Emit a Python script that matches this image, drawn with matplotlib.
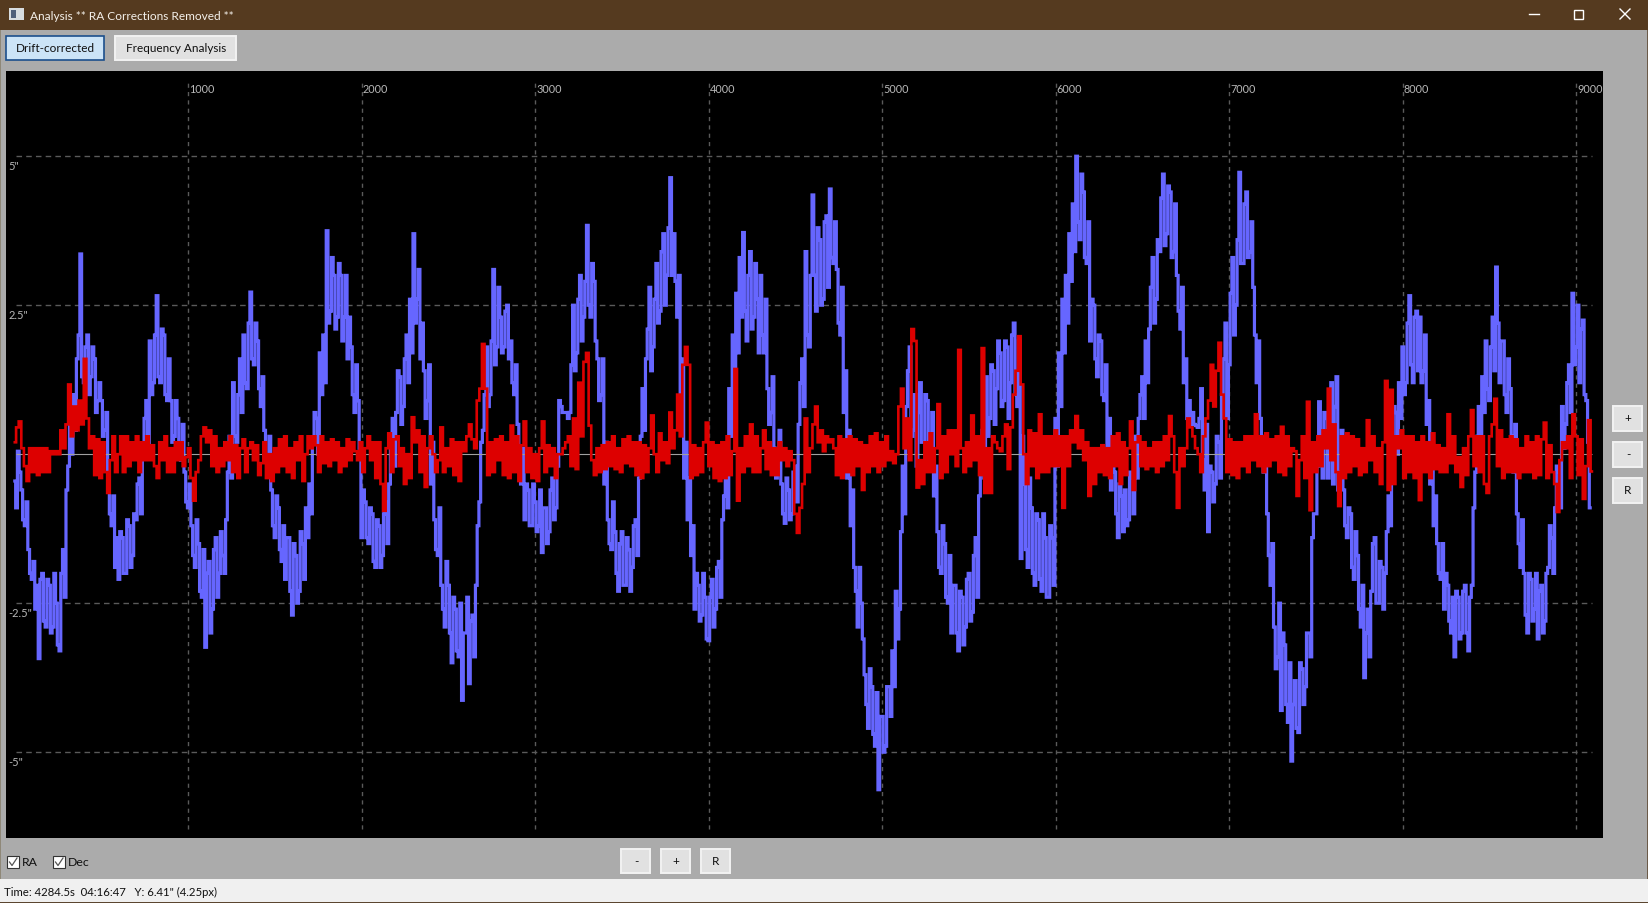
import numpy as np
import matplotlib
matplotlib.use('Agg')
import matplotlib.pyplot as plt
from matplotlib.patches import Rectangle

W, H = 1649, 904
UI_FONT = ['Lato', 'DejaVu Sans']
plt.rcParams['font.family'] = UI_FONT

BLUE = '#6666ff'
RED = '#dd0000'
PANEL = '#ababab'

# time step of the hand read traces (seconds)
ra_step = 20
dec_step = 15

x_ticks = [1000, 2000, 3000, 4000, 5000, 6000, 7000, 8000, 9000]
y_ticks = [5, 2.5, -2.5, -5]
y_labels = ['5"', '2.5"', '-2.5"', '-5"']

# RA, read at t = 0, 20, 40 ...
ra = [
    -.45, .05, -.6, -1.2, -1.6,
    -2.1, -2.6, -3.43, -2.0, -2.9,
    -2.2, -2.9, -2.5, -3.3, -1.6,
    -.6, .6, 1.0, 1.6, 3.36,
    1.2, 2.0, 1.3, 1.6, .9,
    .9, .4, -.4, -1.2, -1.9,
    -2.1, -1.4, -2.0, -1.2, -1.7,
    -1.1, -.4, .1, .9, 1.9,
    1.2, 2.66, 1.2, 2.0, .9,
    .9, .3, .6, -.1, -.3,
    -.9, -1.2, -1.9, -1.5, -2.4,
    -3.24, -1.8, -2.6, -1.4, -2.0,
    -1.7, -1.1, .3, 1.2, .2,
    1.6, 2.0, 1.1, 2.72, 1.5,
    1.9, .8, .4, -.2, -.6,
    -1.4, -.9, -1.8, -2.1, -1.4,
    -2.7, -1.7, -2.3, -1.5, -.9,
    -.5, .2, .6, 1.7, 2.0,
    3.75, 2.4, 3.0, 2.3, 3.0,
    2.3, 1.6, 1.8, .7, .9,
    -1.4, -.8, -1.5, -1.0, -1.9,
    -1.2, -1.7, -.8, -.5, .6,
    .7, 1.3, .8, 2.0, 2.6,
    3.7, 2.6, 1.6, 1.4, .9,
    -.5, -1.1, -1.7, -2.2, -2.9,
    -2.2, -3.5, -2.6, -3.4, -4.13,
    -3.0, -3.85, -2.7, -2.2, -.8,
    .4, 1.8, 1.0, 3.1, 1.8,
    2.3, 1.8, 2.5, 1.9, 1.0,
    .5, -.5, -1.1, -.6, -1.2,
    -.8, -1.2, -1.65, -.9, -1.3,
    -.4, -.9, .9, .7, .7,
    .7, 2.5, 1.7, 3.0, 2.3,
    3.84, 2.3, 2.9, 1.6, 1.0,
    -.5, -1.1, -1.6, -1.3, -2.3,
    -1.3, -2.2, -1.6, -1.9, -1.1,
    -.4, 1.1, 1.6, 2.8, 1.8,
    3.2, 2.4, 3.7, 3.0, 4.64,
    3.7, 2.3, .9, -.4, -1.1,
    -1.7, -2.6, -2.2, -2.7, -2.4,
    -3.13, -2.1, -2.6, -1.8, -1.1,
    -.3, 1.1, 2.0, 2.7, 3.3,
    3.72, 1.9, 3.4, 2.3, 2.6,
    3.0, 1.7, 1.1, .7, .1,
    -.2, -.5, -1.16, -.6, -1.0,
    -.2, .5, 1.6, 3.4, 1.8,
    4.35, 2.4, 3.6, 2.6, 4.0,
    4.45, 3.2, 3.1, 2.0, .7,
    -.4, -1.2, -1.9, -2.9, -2.5,
    -3.7, -4.6, -3.9, -4.9, -5.63,
    -4.4, -4.9, -3.9, -3.3, -2.3,
    -2.6, -.2, .8, 1.8, .4,
    -.2, 1.2, .2, .9, .0,
    -.7, -1.3, -2.0, -1.5, -2.5,
    -3.0, -2.2, -3.3, -2.4, -2.9,
    -2.0, -2.65, -1.4, -.7, .4,
    1.3, .6, 1.4, 1.1, 1.7,
    .9, 1.8, 1.2, 2.2, .8,
    -1.75, -.5, -1.9, -.9, -2.2,
    -1.1, -2.3, -1.4, -2.4, -1.4,
    .6, 1.7, 2.6, 3.0, 3.7,
    4.2, 5.0, 3.6, 4.4, 3.2,
    1.9, 2.5, 1.3, 1.9, .9,
    .0, -.6, -.3, -1.4, -.7,
    -.6, -1.1, -.4, .3, .6,
    1.3, 1.9, 2.1, 3.3, 2.6,
    3.4, 4.7, 3.7, 4.4, 3.4,
    3.0, 2.1, 1.2, .6, .5,
    .5, .45, 1.1, -.6, -1.3,
    -.3, -.5, .2, 1.0, 2.2,
    1.5, 3.3, 2.5, 4.73, 3.2,
    4.4, 3.4, 2.8, 1.2, .6,
    -.3, -1.0, -2.2, -2.9, -3.4,
    -4.3, -3.2, -4.5, -5.15, -3.8,
    -4.67, -3.6, -3.9, -3.0, -1.4,
    -1.0, .88, -.4, .6, .2,
    -.5, 1.3, -.3, -.6, -1.4,
    -1.0, -2.1, -1.7, -2.9, -3.75,
    -2.6, -2.3, -1.4, -2.5, -1.9,
    -2.0, -.7, .2, .7, 1.2,
    1.8, 1.2, 2.66, 1.2, 2.4,
    2.3, 1.4, .5, -.5, -1.2,
    -1.5, -2.1, -2.6, -2.2, -3.0,
    -3.4, -2.4, -3.0, -2.2, -3.3,
    -2.2, -.3, .8, 1.3, 1.9,
    .9, 2.3, 3.14, 1.2, 1.9,
    .7, 1.1, -.3, -1.0, -1.9,
    -2.0, -3.0, -2.1, -2.6, -3.1,
    -2.2, -2.8, -1.9, -1.4, -.9,
    -.3, .8, .5, 1.5, 2.7,
    1.8, 1.2, 2.25, .9, -.9,
]

# RA, read at t = 10, 30, 50 ...
ra_between = [
    -.9, -.3, -1.1, -.8, -2.0,
    -1.8, -2.2, -2.1, -2.8, -2.1,
    -3.0, -2.0, -3.2, -2.0, -2.4,
    -.2, .0, .4, 2.0, 1.3,
    1.8, 1.0, 1.8, .7, 1.2,
    .3, .7, -1.0, -.7, -1.4,
    -1.3, -2.0, -1.1, -1.9, -1.0,
    -.5, -1.0, .6, .1, 1.0,
    2.0, 1.3, 2.1, 1.0, 1.6,
    .2, .9, .1, .5, -.8,
    -.5, -1.7, -1.1, -2.3, -1.6,
    -2.0, -3.0, -1.6, -2.4, -1.3,
    -2.0, -.3, -.4, .3, 1.0,
    .7, 1.2, 2.2, 1.6, 2.2,
    1.1, 1.3, -.1, .3, -1.2,
    -.7, -1.6, -1.2, -1.4, -2.3,
    -1.5, -2.5, -1.3, -2.1, -1.4,
    -1.0, .7, .0, 1.0, 1.2,
    2.2, 3.3, 2.1, 3.2, 1.9,
    3.0, 2.3, 1.0, 1.5, .1,
    -.6, -1.4, -.9, -1.8, -1.1,
    -1.9, -1.0, -1.5, .1, -.2,
    1.4, .5, 1.6, 1.2, 1.7,
    2.2, 3.1, 2.2, .6, 1.5,
    .2, -1.6, -.9, -2.6, -1.8,
    -3.0, -2.4, -3.3, -2.5, -3.0,
    -2.4, -2.8, -3.4, -1.2, .2,
    1.0, .8, 1.9, 1.5, 2.8,
    1.7, 2.4, 1.6, 1.2, 1.5,
    -.2, .1, -.5, -1.2, -.5,
    -1.3, -.6, -.9, -1.5, -.6,
    -1.1, -.2, .8, .7, .6,
    1.5, 1.4, 2.6, 1.9, 2.9,
    2.5, 3.2, 1.9, .9, 1.6,
    .2, -1.5, -.8, -2.0, -1.5,
    -2.2, -1.4, -2.3, -1.2, -1.7,
    .3, .4, 2.1, 1.4, 2.6,
    2.2, 3.4, 2.5, 3.8, 3.0,
    2.9, 3.0, 1.6, .2, -.4,
    -1.2, -2.0, -2.8, -2.0, -3.1,
    -2.4, -2.9, -1.9, -2.4, -.7,
    -.9, .3, .9, 1.7, 2.3,
    2.4, 3.0, 2.1, 3.2, 1.7,
    2.0, 2.6, .5, 1.3, -.4,
    .4, -1.0, -.4, -1.1, -.3,
    -.8, 1.2, .8, 2.0, 3.0,
    3.0, 3.8, 2.5, 3.9, 2.8,
    3.3, 3.9, 2.2, 2.8, 1.4,
    .4, -.6, -2.3, -1.9, -3.1,
    -4.2, -3.6, -4.7, -4.0, -4.4,
    -5.0, -3.9, -4.4, -3.9, -3.1,
    -1.3, -1.0, 1.4, .3, 1.0,
    .7, .2, 1.0, -.2, .7,
    -.2, -1.9, -1.2, -2.4, -1.7,
    -2.2, -3.0, -2.3, -3.2, -2.1,
    -2.8, -1.7, -2.4, -.1, -.4,
    .3, 1.5, .5, 1.9, .8,
    1.9, .6, 2.0, 1.0, 1.9,
    .3, -1.6, -.4, -2.0, -1.0,
    -2.1, -1.0, -2.4, -1.2, -2.2,
    -.2, .8, 1.7, 2.2, 2.9,
    3.4, 3.9, 4.7, 3.3, 3.9,
    2.6, 1.6, 2.0, 1.0, 1.5,
    .6, .2, -1.0, -.5, -1.3,
    -1.2, -.3, -1.0, -.4, 1.0,
    .6, 1.2, 2.8, 2.2, 3.6,
    4.3, 3.5, 4.5, 3.3, 4.2,
    2.4, 2.8, 1.6, .9, .7,
    .48, .6, -.1, .5, -.2,
    -.8, .3, -.4, 1.6, .6,
    2.7, 2.0, 3.6, 3.2, 4.2,
    3.3, 3.9, 2.0, 1.9, .1,
    .3, -1.7, -1.5, -3.6, -2.5,
    -3.0, -4.2, -3.5, -4.2, -4.6,
    -3.5, -4.2, -3.0, -3.4, -1.0,
    -.2, .1, .7, -.4, 1.2,
    .8, -.6, .4, -1.2, -.9,
    -1.9, -1.3, -2.6, -2.2, -3.0,
    -3.4, -1.5, -2.5, -1.8, -2.6,
    -1.3, -1.2, .8, .0, .6,
    1.0, 2.2, 1.5, 2.3, 1.4,
    1.2, 2.0, .9, -.1, -.7,
    -2.0, -1.5, -2.0, -2.8, -2.4,
    -2.3, -3.1, -2.3, -3.0, -2.4,
    -.9, .3, .1, .7, 1.1,
    1.8, 1.4, 2.2, 1.9, 1.0,
    1.6, .3, .5, -1.5, -1.1,
    -2.7, -2.0, -2.8, -2.0, -2.3,
    -3.0, -2.0, -1.2, -2.0, -.2,
    -.9, .1, 1.2, .7, 1.5,
    2.5, 2.1, 1.0, .2,
]

dec = [
    .2, .45, .55, .1, -.2, -.45, .1, -.3, .1, -.35, .1, -.3, .1, -.3, .05, .0, .05, .0, .4, .1,
    .5, 1.17, .3, .8, .4, .9, .5, 1.6, .6, .1, .3, -.35, .25, -.4, .2, -.3, -.65, -.1, .3, -.3,
    .0, .3, -.3, .3, -.2, .2, -.1, .3, -.3, .2, -.1, .3, -.1, .15, -.2, -.4, .2, -.1, .3, -.3,
    .1, -.3, .2, -.1, .2, -.2, -.05, .1, -.4, -.78, -.3, -.1, .3, .45, .2, .4, -.2, .3, -.3, .1,
    -.2, .2, -.1, .3, -.3, .15, -.4, .1, .25, -.3, .1, .2, -.1, .15, -.35, -.15, .2, -.4, .0, -.45,
    .1, -.3, .25, -.2, .3, -.3, .1, -.4, .2, -.1, .3, -.45, .0, .3, .1, .3, .15, -.3, .3, -.15,
    .2, -.2, .25, -.1, .2, -.3, .1, -.2, .25, -.1, .2, .05, -.1, .2, -.3, .1, .3, -.1, .2, -.4,
    .2, -.5, -.95, .1, .35, -.3, .25, .3, -.2, .1, -.5, .0, -.4, .62, .2, .4, -.3, .3, -.55, .1,
    .3, .0, -.3, -.1, .45, -.3, .1, -.2, .25, -.35, .2, -.45, .2, .05, .3, .5, .25, .1, .9, 1.1,
    1.85, 1.1, -.35, .2, -.3, .25, -.1, .3, -.35, .2, -.4, .48, -.3, .3, -.45, .15, .55, -.3, .1, -.4,
    .0, -.45, .1, .55, -.3, .15, -.2, .1, -.4, .0, .0, .1, .2, .3, -.2, .6, -.25, 1.2, .3, 1.55,
    1.7, .48, -.1, -.35, .1, -.3, .15, -.25, .2, -.2, .3, -.25, .1, -.3, .25, -.15, .3, -.2, .2, -.35,
    .2, -.4, .15, -.3, .1, .65, .0, -.3, .35, -.1, .2, -.15, .7, .1, .4, 1.0, .3, 1.5, 1.8, 1.5,
    -.4, .15, -.35, .1, -.3, .2, .53, -.2, .2, -.4, .15, -.45, .2, -.4, .3, -.35, .05, 1.43, -.78, .1,
    -.3, .3, -.2, .5, -.3, .3, -.3, .1, .4, -.25, .2, -.35, .1, -.35, .2, -.1, .1, -.2, .05, -.1,
    -1.0, -1.32, -.9, -.5, .6, -.3, .1, .5, .8, .2, .4, .05, .3, .2, .25, .1, -.35, .3, -.4, .25,
    -.3, .3, -.35, .25, -.2, .2, -.6, .15, -.3, .3, -.2, .35, -.3, .2, -.2, .3, -.1, .05, -.15, .0,
    .8, 1.1, .1, .6, -.1, 2.1, 1.9, -.56, -.1, -.5, .2, -.3, .35, -.3, .1, .84, -.4, .3, -.3, .4,
    .0, .4, -.2, 1.75, .1, -.3, .2, -.2, .65, -.1, .3, -.35, 1.78, -.65, .1, -.65, .3, .2, .1, .05,
    .3, .5, -.25, .45, 1.0, 1.4, 1.98, 1.17, .0, -.5, .4, -.2, .35, -.4, .67, -.3, .3, -.3, .3, -.2,
    .4, -.2, .3, -.9, .3, -.2, .4, .2, .64, .1, .4, -.1, .2, -.7, .1, -.5, .1, -.3, .15, -.35,
    .1, -.4, .3, -.2, .35, -.5, .2, -.35, .1, .55, -.6, .2, .3, -.2, .2, -.25, .1, -.2, .2, -.3,
    .2, -.2, .3, -.1, .64, .3, -.3, -.9, .1, -.2, .1, .6, .45, .3, .1, .0, -.3, .3, .6, .9,
    1.5, .8, 1.4, 1.87, 1.0, .6, -.3, .25, -.35, .2, -.4, .2, -.2, .3, -.3, .3, -.1, .67, -.2, .3,
    -.3, .35, -.2, .25, -.1, .3, -.3, .46, -.35, .3, -.2, .1, .05, -.7, -.1, .3, -.4, .88, -.94, .2,
    -.3, .3, -.2, .4, .1, 1.1, -.1, .5, -.3, -.87, .3, -.4, .35, -.3, .3, -.2, .25, -.35, .1, -.3,
    .57, -.1, .3, -.3, .1, -.5, .2, 1.23, -.6, 1.08, -.5, .3, .1, .4, -.4, .3, -.3, .3, -.4, .2,
    -.77, .3, -.3, .2, -.4, .35, -.25, .15, -.3, .1, -.3, .67, -.15, .3, -.3, -.05, -.55, .1, -.35, .3,
    .74, -.2, .3, -.3, .3, -.5, -.65, .3, .5, .93, -.2, .4, -.4, .25, -.3, .3, -.3, .25, -.4, .1,
    -.3, .3, -.3, .2, -.4, .3, -.35, .25, .53, -.4, .15, -.3, -.5, -.97, -.1, .2, .1, .3, -.4, .67,
    .3, -.35, .25, -.75, -.2, .57, -.29,
]

fig = plt.figure(figsize=(W / 100, H / 100), dpi=100, facecolor=PANEL)

# window chrome, in pixel coordinates
ui = fig.add_axes([0, 0, 1, 1])
ui.set_xlim(0, W)
ui.set_ylim(H, 0)
ui.axis('off')


def box(x0, y0, x1, y1, face, edge='none', lw=0):
    ui.add_patch(Rectangle((x0, y0), x1 - x0, y1 - y0, facecolor=face, edgecolor=edge, linewidth=lw))


def label(x, y, s, size=8.5, color='#101010', ha='left'):
    ui.text(x, y, s, fontsize=size, color=color, ha=ha, va='center')


def button(x0, y0, x1, y1, s):
    box(x0, y0, x1, y1, '#e1e1e1', '#f2f2f2', 1.4)
    label((x0 + x1) / 2, (y0 + y1) / 2, s, ha='center')


box(0, 0, W, 31, '#553a1f')
box(0, 31, 1.5, H, '#8f8878')
box(W - 1.5, 31, W, H, '#6b5a48')
box(9, 9, 24, 21, '#d8dde0')
box(11, 11, 16, 19, '#50607a')
label(30, 16, 'Analysis ** RA Corrections Removed **', size=8.6, color='#f4f0ea')
ui.plot([1529, 1539], [15, 15], color='white', lw=1)
ui.add_patch(Rectangle((1574.5, 10.5), 9, 9, facecolor='none', edgecolor='white', linewidth=1))
ui.plot([1620, 1630], [10, 20], color='white', lw=1)
ui.plot([1620, 1630], [20, 10], color='white', lw=1)

box(6.5, 37, 104, 61, '#cce4f7', '#1c4f8c', 1.2)
label(55, 49, 'Drift-corrected', ha='center')
button(115.5, 37, 236, 61, 'Frequency Analysis')

button(1613.5, 406.5, 1642.5, 431.5, '+')
button(1613.5, 442.5, 1642.5, 467.5, '-')
button(1613.5, 478.5, 1642.5, 503.5, 'R')
button(621.5, 849.5, 650.5, 874, '-')
button(661, 849.5, 690.5, 874, '+')
button(701, 849.5, 730.5, 874, 'R')

for bx, name in [(7, 'RA'), (53, 'Dec')]:
    box(bx, 857, bx + 12, 869, 'white', '#333333', 0.8)
    ui.plot([bx + 2.5, bx + 5, bx + 10], [863, 866.5, 859], color='#555555', lw=0.9)
    label(bx + 15, 863, name, size=8.8)

box(0, 880, W, 903, '#f0f0f0')
box(0, 903, W, H, '#5b4630')
label(4, 892.5, 'Time: 4284.5s  04:16:47   Y: 6.41" (4.25px)', size=8.2)

# graph
x0_px, x1_px, top_px, bot_px = 6, 1603, 72, 839
ax = fig.add_axes([x0_px / W, 1 - bot_px / H, (x1_px - x0_px) / W, (bot_px - top_px) / H], facecolor='black')
ax.set_xlim(-50.7, 9154)
ax.set_ylim(-6.44, 6.43)
ax.set_xticks([])
ax.set_yticks([])
for s in ax.spines.values():
    s.set_visible(False)

ax.vlines(x_ticks, -6.29, 6.25, color='#5a5a5a', lw=1, linestyles=(0, (3, 3)), zorder=1)
ax.hlines(y_ticks, 7, 9092, color='#5a5a5a', lw=1, linestyles=(0, (4, 3)), zorder=1)

ra_t = np.concatenate([np.arange(len(ra)) * ra_step, np.arange(len(ra_between)) * ra_step + ra_step // 2])
ra_all = np.concatenate([ra, ra_between])
order = np.argsort(ra_t)
dec_t = np.arange(len(dec)) * dec_step

ax.plot(ra_t[order], ra_all[order], color=BLUE, lw=2.3, drawstyle='steps-mid', solid_joinstyle='miter', zorder=2)
ax.hlines(0, 7, 9092, color='#a0a0a0', lw=0.8, zorder=3)
ax.plot(dec_t, dec, color=RED, lw=1.9, drawstyle='steps-mid', solid_joinstyle='miter', zorder=4)

for t in x_ticks:
    ax.annotate(str(t), (t, 6.14), xytext=(1, 0), textcoords='offset pixels',
                color='#b8b8b8', fontsize=7.8, va='center', ha='left', zorder=5)
for v, s in zip(y_ticks, y_labels):
    ax.annotate(s, (0, v), xytext=(-6, -9), textcoords='offset pixels',
                color='#b8b8b8', fontsize=8, va='center', ha='left', zorder=5)

fig.savefig('out.png', dpi=100, facecolor=PANEL)
